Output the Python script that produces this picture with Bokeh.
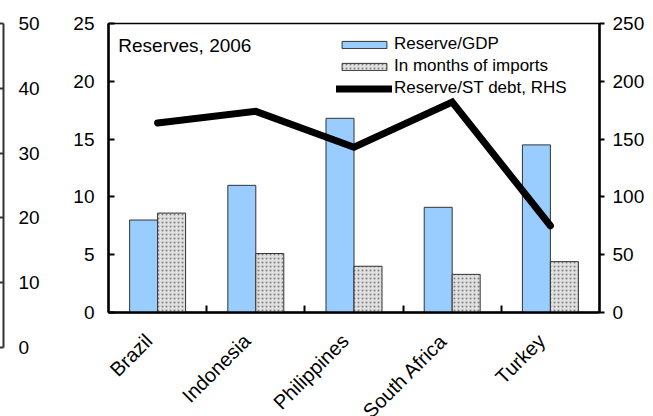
import math
from bokeh.plotting import figure
from bokeh.models import (Range1d, LinearAxis, FixedTicker, Legend, LegendItem,
                          Label, ColumnDataSource)
from bokeh.transform import dodge
from bokeh.layouts import row
from bokeh.embed import file_html
from bokeh.resources import INLINE

# ---- data ----
categories = ["Brazil", "Indonesia", "Philippines", "South Africa", "Turkey"]
reserve_gdp = [8.0, 11.0, 16.8, 9.1, 14.5]          # LHS, per cent
months_of_imports = [8.6, 5.1, 4.0, 3.3, 4.4]      # LHS
reserve_st_debt = [164, 174, 143, 182, 75]          # RHS
lhs_ticks = [0, 5, 10, 15, 20, 25]
rhs_ticks = [0, 50, 100, 150, 200, 250]
side_ticks = [0, 10, 20, 30, 40, 50]                # axis of the neighbouring (cut) chart
title_text = "Reserves, 2006"
series_names = ["Reserve/GDP", "In months of imports", "Reserve/ST debt, RHS"]

FONT = "Liberation Sans"

centers = [i + 0.5 for i in range(len(categories))]
src = ColumnDataSource(dict(x=centers, gdp=reserve_gdp, months=months_of_imports,
                            debt=reserve_st_debt))

# ---- left: cut-off neighbouring chart axis ----
pl = figure(frame_width=3, frame_height=324, min_border_left=0, min_border_right=57,
            min_border_top=18, min_border_bottom=74,
            x_range=Range1d(0, 1), y_range=Range1d(side_ticks[0], side_ticks[-1]),
            x_axis_location=None, y_axis_location=None,
            output_backend="svg", toolbar_location=None)
pl.outline_line_color = None
pl.xgrid.visible = False
pl.ygrid.visible = False
ax_side = LinearAxis(ticker=FixedTicker(ticks=side_ticks))
ax_side.axis_line_color = "#333333"
ax_side.axis_line_width = 2
ax_side.major_tick_in = 4
ax_side.major_tick_out = 0
ax_side.major_tick_line_color = "#333333"
ax_side.major_tick_line_width = 2
ax_side.minor_tick_line_color = None
ax_side.major_label_standoff = 15
ax_side.major_label_text_font = FONT
ax_side.major_label_text_font_size = "19px"
ax_side.major_label_text_color = "black"
pl.add_layout(ax_side, "right")

# ---- main chart ----
p = figure(frame_width=491, frame_height=289, min_border_left=48, min_border_right=54,
           min_border_top=23, min_border_bottom=104,
           x_range=Range1d(0, len(categories)),
           y_range=Range1d(lhs_ticks[0], lhs_ticks[-1]),
           x_axis_location=None, y_axis_location=None,
           output_backend="svg", toolbar_location=None)
p.extra_y_ranges = {"rhs": Range1d(rhs_ticks[0], rhs_ticks[-1])}
p.outline_line_color = "black"
p.outline_line_width = 1.5
p.xgrid.visible = False
p.ygrid.visible = False
p.background_fill_color = "white"

bw = 0.285
r_gdp = p.vbar(x=dodge("x", -bw / 2, range=p.x_range), top="gdp", width=bw, source=src,
               fill_color="#99CCFF", line_color="#333333", line_width=1)
r_mon = p.vbar(x=dodge("x", bw / 2, range=p.x_range), top="months", width=bw, source=src,
               fill_color="#E0E0E0", line_color="#333333", line_width=1,
               hatch_pattern="dot", hatch_color="#808080", hatch_scale=4,
               hatch_weight=1.7)
r_debt = p.line(x="x", y="debt", source=src, y_range_name="rhs",
                line_color="black", line_width=7, line_cap="round",
                line_join="miter")

# axes: category names anchored slightly left of each group centre (rotated text)
label_shift = 0.09
label_pos = [c - label_shift for c in centers]
ax_b = LinearAxis(ticker=FixedTicker(ticks=label_pos,
                                     minor_ticks=[i for i in range(1, len(categories))]))
ax_b.major_label_overrides = {c: name for c, name in zip(label_pos, categories)}
ax_b.axis_line_color = "black"
ax_b.axis_line_width = 2.5
ax_b.major_tick_in = 0
ax_b.major_tick_out = 0
ax_b.minor_tick_in = 7
ax_b.minor_tick_out = 0
ax_b.minor_tick_line_color = "black"
ax_b.minor_tick_line_width = 2
ax_b.major_label_orientation = math.pi / 4
ax_b.major_label_standoff = 25
ax_b.major_label_text_font = FONT
ax_b.major_label_text_font_size = "20px"
ax_b.major_label_text_color = "black"
p.add_layout(ax_b, "below")

ax_l = LinearAxis(ticker=FixedTicker(ticks=lhs_ticks))
ax_l.axis_line_color = "black"
ax_l.axis_line_width = 2.5
ax_l.major_tick_in = 6
ax_l.major_tick_out = 0
ax_l.major_tick_line_color = "black"
ax_l.major_tick_line_width = 2
ax_l.minor_tick_line_color = None
ax_l.major_label_standoff = 14
ax_l.major_label_text_font = FONT
ax_l.major_label_text_font_size = "19px"
ax_l.major_label_text_color = "black"
p.add_layout(ax_l, "left")

ax_r = LinearAxis(y_range_name="rhs", ticker=FixedTicker(ticks=rhs_ticks))
ax_r.axis_line_color = "black"
ax_r.axis_line_width = 2.5
ax_r.major_tick_in = 0
ax_r.major_tick_out = 5
ax_r.major_tick_line_color = "black"
ax_r.major_tick_line_width = 2
ax_r.minor_tick_line_color = None
ax_r.major_label_standoff = 8
ax_r.major_label_text_font = FONT
ax_r.major_label_text_font_size = "19px"
ax_r.major_label_text_color = "black"
p.add_layout(ax_r, "right")

# title inside the plot
p.add_layout(Label(x=0.1, y=23.1, text=title_text, text_font=FONT,
                   text_font_size="19px", text_baseline="middle", text_align="left",
                   text_color="black"))

# legend
legend = Legend(items=[LegendItem(label=series_names[0], renderers=[r_gdp]),
                       LegendItem(label=series_names[1], renderers=[r_mon]),
                       LegendItem(label=series_names[2], renderers=[r_debt])],
                location=(228, 214))
legend.background_fill_alpha = 0
legend.border_line_alpha = 0
legend.padding = 0
legend.margin = 0
legend.spacing = 2
legend.glyph_width = 56
legend.glyph_height = 9
legend.label_height = 20
legend.label_standoff = 2
legend.label_text_font = FONT
legend.label_text_font_size = "17px"
legend.label_text_color = "black"
p.add_layout(legend, "center")

layout = row(pl, p)
open("out.html", "w").write(file_html(layout, INLINE))
